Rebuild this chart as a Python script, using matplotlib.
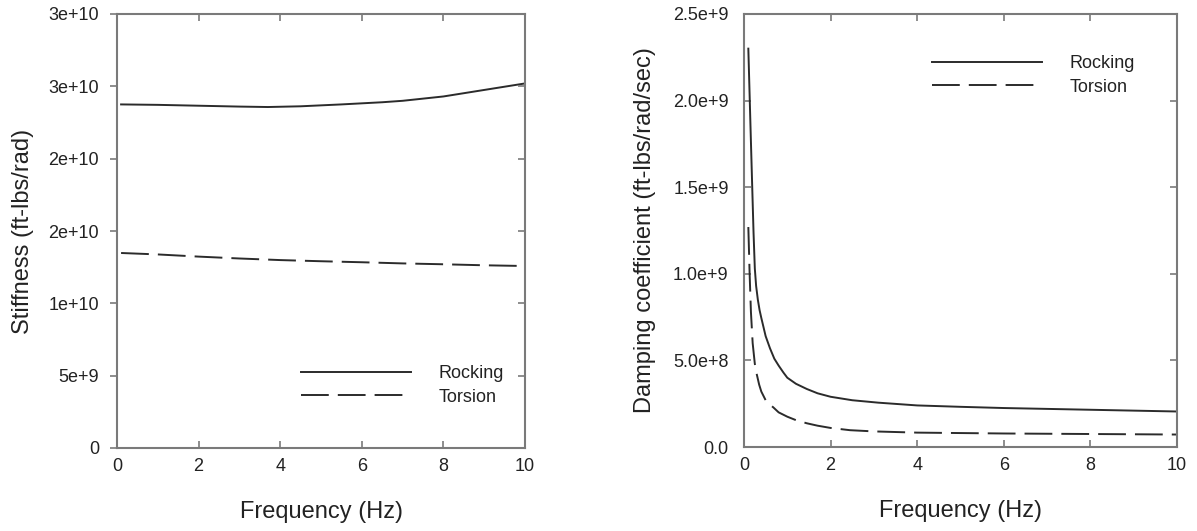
import matplotlib
matplotlib.use("Agg")
import matplotlib.pyplot as plt

plt.rcParams['font.family'] = ['Liberation Sans', 'DejaVu Sans']
plt.rcParams['lines.scale_dashes'] = False

# Stiffness (left panel)
freq_k = [0.1, 1, 2, 3, 3.7, 4.5, 5.5, 6.5, 7, 8, 9, 10]
rock_k = [2.375e10, 2.372e10, 2.366e10, 2.360e10, 2.357e10, 2.362e10,
          2.375e10, 2.39e10, 2.40e10, 2.43e10, 2.475e10, 2.52e10]
freq_kt = [0.1, 1, 2, 3, 4, 5, 6, 7, 8, 9, 10]
tors_k = [1.348e10, 1.338e10, 1.323e10, 1.31e10, 1.299e10, 1.291e10,
          1.284e10, 1.276e10, 1.27e10, 1.263e10, 1.258e10]
k_ticks = [0, 5e9, 1e10, 1.5e10, 2e10, 2.5e10, 3e10]
k_labels = ['0', '5e+9', '1e+10', '2e+10', '2e+10', '3e+10', '3e+10']

# Damping (right panel)
freq_c = [0.1, 0.15, 0.19, 0.22, 0.25, 0.28, 0.32, 0.36, 0.4, 0.5, 0.6, 0.7,
          0.8, 0.91, 1.0, 1.2, 1.45, 1.7, 2.0, 2.5, 3.1, 4, 5, 6, 8, 10]
rock_c = [2.30e9, 1.85e9, 1.50e9, 1.24e9, 1.03e9, 0.93e9, 0.85e9, 0.79e9,
          0.745e9, 0.64e9, 0.57e9, 0.51e9, 0.47e9, 0.43e9, 0.40e9, 0.365e9,
          0.335e9, 0.31e9, 0.29e9, 0.27e9, 0.256e9, 0.24e9, 0.232e9,
          0.225e9, 0.215e9, 0.205e9]
freq_ct = [0.1, 0.13, 0.16, 0.2, 0.25, 0.29, 0.35, 0.4, 0.5, 0.6, 0.68, 0.8,
           1.0, 1.2, 1.45, 1.7, 2.0, 2.45, 3.0, 4, 6, 8, 10]
tors_c = [1.27e9, 1.00e9, 0.78e9, 0.60e9, 0.48e9, 0.425e9, 0.36e9, 0.32e9,
          0.27e9, 0.245e9, 0.228e9, 0.20e9, 0.175e9, 0.155e9, 0.137e9,
          0.123e9, 0.11e9, 0.097e9, 0.09e9, 0.083e9, 0.078e9, 0.075e9,
          0.072e9]
c_ticks = [0, 5e8, 1e9, 1.5e9, 2e9, 2.5e9]
c_labels = ['0.0', '5.0e+8', '1.0e+9', '1.5e+9', '2.0e+9', '2.5e+9']

x_ticks = [0, 2, 4, 6, 8, 10]

line_col = '#2b2b2b'
spine_col = '#7a7a7a'
text_col = '#222222'
dash = (0, (20, 6.5))

fig = plt.figure(figsize=(11.97, 5.31), dpi=100)
ax1 = fig.add_axes([117/1197, 1-448/531, 408/1197, 434/531])
ax2 = fig.add_axes([744/1197, 1-447/531, 433/1197, 433/531])

for ax in (ax1, ax2):
    for s in ax.spines.values():
        s.set_color(spine_col)
        s.set_linewidth(1.5)
    ax.set_xlim(0, 10)
    ax.set_xticks(x_ticks)
    ax.set_xticklabels([str(t) for t in x_ticks])
    ax.tick_params(axis='both', labelsize=13, colors=spine_col,
                   labelcolor=text_col, length=5, width=1.2)
    ax.tick_params(axis='x', direction='in', top=True, pad=7)
    ax.set_xlabel('Frequency (Hz)', fontsize=17, color=text_col, labelpad=19)

ax1.plot(freq_k, rock_k, color=line_col, lw=1.4, label='Rocking')
ax1.plot(freq_kt, tors_k, color=line_col, lw=1.4, linestyle=dash, label='Torsion')
ax1.set_ylim(0, 3e10)
ax1.set_yticks(k_ticks)
ax1.set_yticklabels(k_labels)
ax1.tick_params(axis='y', direction='out', right=False, pad=8)
ax1.set_ylabel('Stiffness (ft-lbs/rad)', fontsize=17, color=text_col, labelpad=10)
ax1.legend(loc='center left', bbox_to_anchor=(0.451, 0.144), frameon=False,
           fontsize=13, handlelength=6.1, handletextpad=1.5, borderpad=0,
           borderaxespad=0, labelspacing=0.35, labelcolor=text_col)

# inward ticks on the right spine of the left panel
ax1r = ax1.twinx()
ax1r.set_ylim(0, 3e10)
ax1r.set_yticks(k_ticks)
ax1r.tick_params(axis='y', direction='in', length=5, width=1.2,
                 colors=spine_col, labelright=False)
for s in ax1r.spines.values():
    s.set_visible(False)

ax2.plot(freq_c, rock_c, color=line_col, lw=1.4, label='Rocking')
ax2.plot(freq_ct, tors_c, color=line_col, lw=1.4, linestyle=dash, label='Torsion')
ax2.set_ylim(0, 2.5e9)
ax2.set_yticks(c_ticks)
ax2.set_yticklabels(c_labels)
ax2.tick_params(axis='y', direction='in', right=True, pad=11)
ax2.set_ylabel('Damping coefficient (ft-lbs/rad/sec)', fontsize=17,
               color=text_col, labelpad=12)
ax2.legend(loc='center left', bbox_to_anchor=(0.434, 0.858), frameon=False,
           fontsize=13, handlelength=6.1, handletextpad=1.5, borderpad=0,
           borderaxespad=0, labelspacing=0.35, labelcolor=text_col)

fig.savefig('out.png', dpi=100)
